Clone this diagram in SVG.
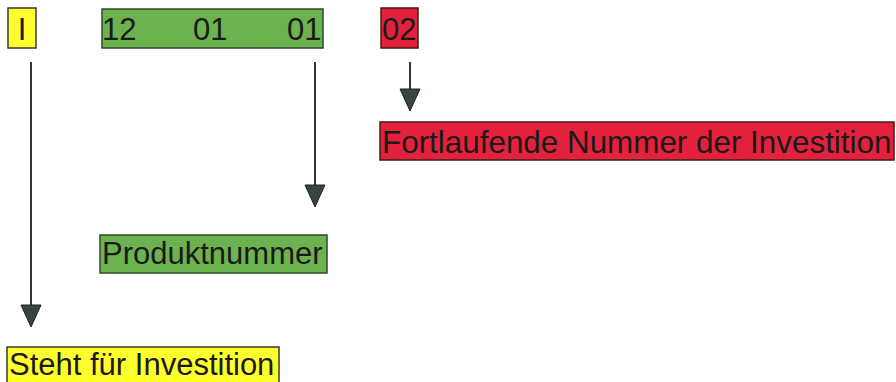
<svg xmlns="http://www.w3.org/2000/svg" width="896" height="382" viewBox="0 0 896 382">
<defs>
<style>
.t{font-family:"Liberation Sans",Arial,sans-serif;font-size:31px;fill:#1a1a1a}
.y{fill:#ffff2e;stroke:#3a3a2a;stroke-width:1.5}
.g{fill:#6cb24e;stroke:#2f4a2a;stroke-width:1.5}
.r{fill:#e3213d;stroke:#4a1a1a;stroke-width:1.5}
.c{stroke:#333;stroke-width:2;fill:none}
.h{fill:#364444;stroke:#222;stroke-width:1}
</style>
</defs>
<rect width="896" height="382" fill="#fff"/>
<g id="node-I"><rect class="y" x="8" y="8" width="28" height="40"/><text class="t" x="22" y="40" text-anchor="middle">I</text></g>
<g id="node-code"><rect class="g" x="102" y="9" width="221" height="39"/><text class="t" x="102" y="40">12</text><text class="t" x="193" y="40">01</text><text class="t" x="287" y="40">01</text></g>
<g id="node-02"><rect class="r" x="381" y="8" width="37" height="40"/><text class="t" x="382" y="40">02</text></g>
<g id="node-fortlaufend"><rect class="r" x="380" y="122" width="514" height="38"/><text class="t" x="382" y="153" style="font-size:31.4px">Fortlaufende Nummer der Investition</text></g>
<g id="node-produkt"><rect class="g" x="100" y="235" width="227" height="38"/><text class="t" x="102" y="264">Produktnummer</text></g>
<g id="node-steht"><rect class="y" x="7" y="347" width="272" height="36"/><text class="t" x="9" y="375">Steht für Investition</text></g>
<g id="connectors">
<line class="c" x1="31" y1="62" x2="31" y2="306"/><polygon class="h" points="21,305 41,305 31,327"/>
<line class="c" x1="315" y1="62" x2="315" y2="186"/><polygon class="h" points="305,185 325,185 315,207"/>
<line class="c" x1="410" y1="62" x2="410" y2="90"/><polygon class="h" points="400,89 420,89 410,111"/>
</g>
</svg>
